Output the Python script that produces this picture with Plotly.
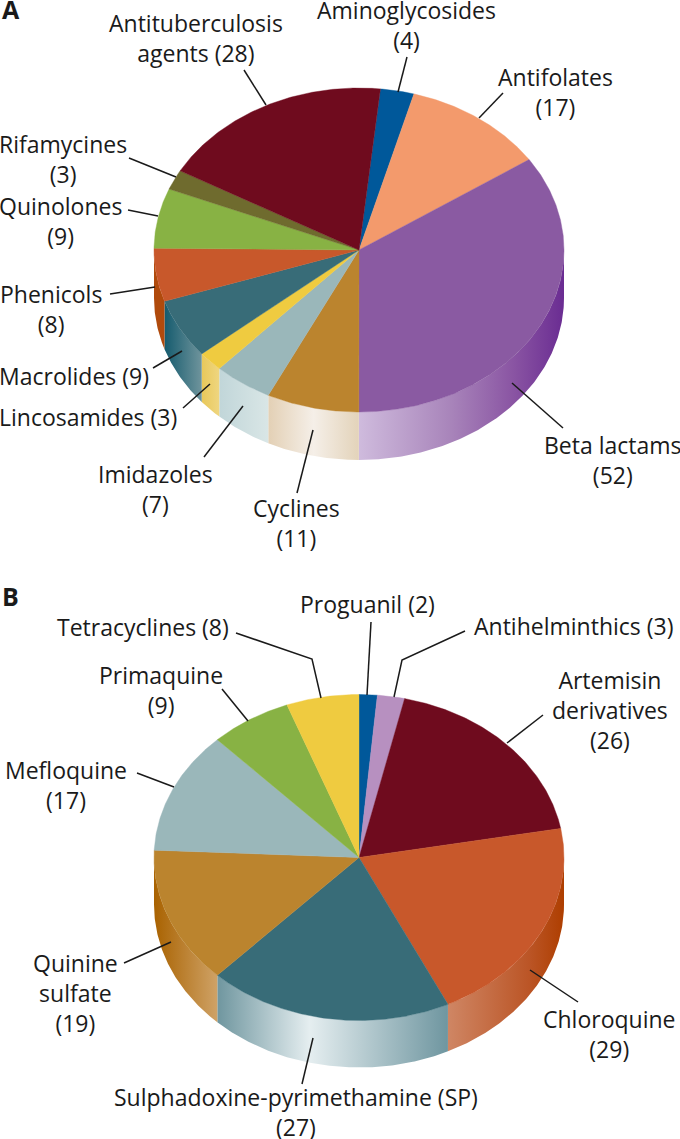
import numpy as np
import plotly.graph_objects as go

# Panel A, clockwise from the Aminoglycosides slice
names_a = ["Aminoglycosides", "Antifolates", "Beta lactams", "Cyclines", "Imidazoles", "Lincosamides",
           "Macrolides", "Phenicols", "Quinolones", "Rifamycines", "Antituberculosis agents"]
values_a = [4, 17, 52, 11, 7, 3, 9, 8, 9, 3, 28]

# Panel B, clockwise from the Proguanil slice
names_b = ["Proguanil", "Antihelminthics", "Artemisin derivatives", "Chloroquine",
           "Sulphadoxine-pyrimethamine (SP)", "Quinine sulfate", "Mefloquine", "Primaquine", "Tetracyclines"]
values_b = [2, 3, 26, 29, 27, 19, 17, 9, 8]

colors_a = ["#00589a", "#f39a6c", "#8a5aa2", "#bb842e", "#9ab7ba", "#efcb40",
            "#386c78", "#c8582b", "#88b244", "#6f6b2e", "#6f0b1e"]
colors_b = ["#00589a", "#b790c0", "#6f0b1e", "#c8582b", "#386c78", "#bb842e", "#9ab7ba", "#88b244", "#efcb40"]

# gradients of the pie walls, left to right
sides_a = {
    "Beta lactams": [[0, "#cfbbdd"], [0.45, "#a884ba"], [0.75, "#8a55a3"], [1, "#6a2c92"]],
    "Cyclines": [[0, "#e3d0b5"], [0.5, "#f5efe8"], [1, "#e3d3ba"]],
    "Imidazoles": [[0, "#c1d6d9"], [1, "#d9e6e6"]],
    "Lincosamides": [[0, "#e8c85a"], [1, "#efd680"]],
    "Macrolides": [[0, "#155b6e"], [1, "#6f949c"]],
    "Phenicols": [[0, "#b04a0c"], [1, "#b04a0c"]],
}
sides_b = {
    "Chloroquine": [[0, "#cf8664"], [0.7, "#bb5526"], [1, "#ae3e00"]],
    "Sulphadoxine-pyrimethamine (SP)": [[0, "#6f969f"], [0.4, "#e5eef0"], [1, "#6f96a0"]],
    "Quinine sulfate": [[0, "#a96200"], [1, "#cfa266"]],
}

FONT = "Open Sans"
FONT_SIZE = 23


def arc(cx, cy, a, b, deg0, deg1):
    # angles run clockwise from 12 o'clock
    t = np.radians(np.arange(deg0, deg1, 0.5).tolist() + [deg1])
    return cx + a * np.sin(t), cy - b * np.cos(t)


def add_pie(fig, names, values, colors, sides, start, cx, cy, a, b, depth):
    edges = start + np.cumsum([0] + values) * 360 / sum(values)

    for i, name in enumerate(names):
        if name not in sides:
            continue
        deg0, deg1 = max(edges[i], 90), min(edges[i + 1], 270)
        x, y = arc(cx, cy, a, b, deg0, deg1)
        fig.add_trace(go.Scatter(
            x=np.concatenate([x, x[::-1]]),
            y=np.concatenate([y, y[::-1] + depth]),
            mode="lines", fill="toself", line=dict(width=0),
            fillgradient=dict(type="horizontal", colorscale=sides[name]),
            hoverinfo="skip",
        ))

    for i, name in enumerate(names):
        x, y = arc(cx, cy, a, b, edges[i], edges[i + 1])
        fig.add_trace(go.Scatter(
            x=np.concatenate([[cx], x, [cx]]),
            y=np.concatenate([[cy], y, [cy]]),
            mode="lines", fill="toself", fillcolor=colors[i],
            line=dict(width=0.4, color=colors[i]),
            hoverinfo="skip", name=name,
        ))


# label text, centre x, centre y
labels = [
    ("Antituberculosis<br>agents (28)", 196, 38),
    ("Aminoglycosides<br>(4)", 406, 25),
    ("Antifolates<br>(17)", 555, 91.5),
    ("Rifamycines<br>(3)", 63, 159),
    ("Quinolones<br>(9)", 60, 221),
    ("Phenicols<br>(8)", 50.5, 309),
    ("Macrolides (9)", 74, 376),
    ("Lincosamides (3)", 87.5, 417),
    ("Imidazoles<br>(7)", 155, 489),
    ("Cyclines<br>(11)", 296, 523),
    ("Beta lactams<br>(52)", 613, 460),
    ("Proguanil (2)", 367, 604),
    ("Antihelminthics (3)", 573, 626),
    ("Tetracyclines (8)", 143, 627),
    ("Primaquine<br>(9)", 160.5, 689.5),
    ("Artemisin<br>derivatives<br>(26)", 610, 710),
    ("Mefloquine<br>(17)", 65.5, 785),
    ("Quinine<br>sulfate<br>(19)", 75, 993),
    ("Chloroquine<br>(29)", 609, 1034),
    ("Sulphadoxine-pyrimethamine (SP)<br>(27)", 296, 1112),
]

leaders = [
    [(244, 70), (266, 105)], [(407, 57), (398, 92)], [(503, 93), (479, 118)],
    [(129, 158), (176, 177)], [(128, 210), (158, 216)], [(110, 294), (155, 287)],
    [(153, 368), (182, 351)], [(183, 408), (210, 384)], [(204, 457), (243, 406)],
    [(297, 493), (313, 430)], [(512, 383), (563, 428)],
    [(371, 622), (367, 695)], [(465, 631), (402, 660), (394, 697)], [(236, 633), (312, 659), (321, 698)],
    [(222, 689), (248, 721)], [(543, 715), (507, 743)], [(137, 773), (174, 787)],
    [(124, 963), (171, 942)], [(530, 970), (578, 1002)], [(313, 1038), (302, 1084)],
]

fig = go.Figure()
add_pie(fig, names_a, values_a, colors_a, sides_a, start=6, cx=359, cy=250, a=205, b=162, depth=48)
add_pie(fig, names_b, values_b, colors_b, sides_b, start=0, cx=359, cy=857.5, a=205, b=163, depth=47)

for pts in leaders:
    fig.add_trace(go.Scatter(x=[p[0] for p in pts], y=[p[1] for p in pts], mode="lines",
                             line=dict(color="#1a1a1a", width=1.5), hoverinfo="skip"))

for text, x, y in labels:
    fig.add_annotation(x=x, y=y, text=text, showarrow=False, xanchor="center", yanchor="middle",
                       align="center", font=dict(family=FONT, size=FONT_SIZE, color="#1a1a1a"))

for text, y in [("A", 9), ("B", 596)]:
    fig.add_annotation(x=0, y=y, text=f"<b>{text}</b>", showarrow=False, xanchor="left", yanchor="middle",
                       font=dict(family=FONT, size=25, color="#1a1a1a"))

fig.update_xaxes(visible=False, range=[0, 680], fixedrange=True)
fig.update_yaxes(visible=False, range=[1139, 0], fixedrange=True)
fig.update_layout(width=680, height=1139, margin=dict(l=0, r=0, t=0, b=0), showlegend=False,
                  plot_bgcolor="white", paper_bgcolor="white")

# the page's default body margin would push the plot 8px off
fig.write_html("out.html", config=dict(displayModeBar=False),
               post_script="document.body.style.margin='0';")
